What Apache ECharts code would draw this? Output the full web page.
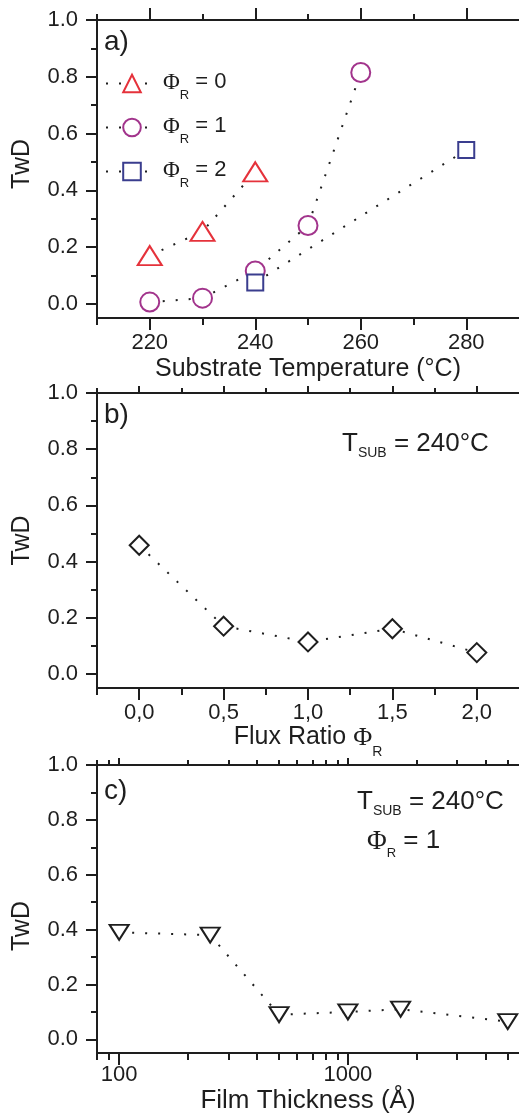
<!DOCTYPE html>
<html>
<head>
<meta charset="utf-8">
<script src="https://cdn.jsdelivr.net/npm/echarts@6/dist/echarts.min.js"></script>
<style>
html,body{margin:0;padding:0;background:#fff;}
#chart{width:519px;height:1116px;}
</style>
</head>
<body>
<div id="chart"></div>
<script>
// ---------- data ----------
const phi0Temp = [220, 230, 240];
const phi0TwD  = [0.17, 0.255, 0.465];
const phi1Temp = [220, 230, 240, 250, 260];
const phi1TwD  = [0.006, 0.02, 0.116, 0.276, 0.815];
const phi2Temp = [240, 280];
const phi2TwD  = [0.075, 0.542];
const seriesNamesA = ['ΦR = 0', 'ΦR = 1', 'ΦR = 2'];

const fluxRatio = [0, 0.5, 1.0, 1.5, 2.0];
const fluxTwD   = [0.458, 0.170, 0.114, 0.161, 0.076];

const thickness    = [100, 250, 500, 1000, 1700, 5000];
const thicknessTwD = [0.39, 0.38, 0.09, 0.10, 0.11, 0.065];

// ---------- tick labels ----------
const yTicks      = [0, 0.2, 0.4, 0.6, 0.8, 1.0];
const yMinorTicks = [0.1, 0.3, 0.5, 0.7, 0.9];
const tempTicks      = [220, 240, 260, 280];
const tempMinorTicks = [210, 230, 250, 270];
const fluxTicks      = [0, 0.5, 1.0, 1.5, 2.0];
const fluxMinorTicks = [-0.25, 0.25, 0.75, 1.25, 1.75];
const thickTicks      = [100, 1000];
const thickMinorTicks = [80, 90, 200, 300, 400, 500, 600, 700, 800, 900, 2000, 3000, 4000, 5000];

// ---------- style ----------
const INK = '#1e1e1e';
const FONT = '"Liberation Sans", Arial, sans-serif';
const SERIF = '"Liberation Serif", "DejaVu Serif", serif';
const RED = '#e5323b', PURPLE = '#a2348c', BLUE = '#3a3d8e';
const TICK_FS = 22, TITLE_FS = 25;

const grids = [
  {left: 97, top: 20,  width: 424, height: 298},
  {left: 97, top: 393, width: 424, height: 295},
  {left: 97, top: 765, width: 424, height: 297}
];

function baseAxis(gi, type, min, max, position, showLine) {
  const ax = {
    gridIndex: gi, type: type, min: min, max: max, position: position,
    axisLine: {show: showLine, onZero: false, lineStyle: {color: INK, width: 2}},
    splitLine: {show: false},
    axisLabel: {show: false},
    axisPointer: {show: false}
  };
  if (type === 'log') ax.logBase = 10;
  return ax;
}
function tickAxis(gi, type, min, max, position, values, len, showLine, label) {
  const ax = baseAxis(gi, type, min, max, position, showLine);
  ax.axisTick = {show: true, customValues: values, length: len, inside: false,
                 lineStyle: {color: INK, width: 2}};
  if (label) {
    ax.axisLabel = Object.assign({show: true, customValues: values, color: INK,
      fontFamily: FONT, fontSize: TICK_FS}, label);
  }
  return ax;
}

const xAxes = [];
const yAxes = [];
function addPanel(gi, xType, xMin, xMax, xMajor, xMinor, xLabel, topMajorLen, topMinorLen, xName, yPad) {
  const main = tickAxis(gi, xType, xMin, xMax, 'bottom', xMajor, 12, true, xLabel);
  Object.assign(main, xName);
  const idx = xAxes.length;
  xAxes.push(main);
  xAxes.push(tickAxis(gi, xType, xMin, xMax, 'bottom', xMinor, 7, false));
  xAxes.push(tickAxis(gi, xType, xMin, xMax, 'top', xMajor, topMajorLen, true));
  xAxes.push(tickAxis(gi, xType, xMin, xMax, 'top', xMinor, topMinorLen, false));
  const yMain = tickAxis(gi, 'value', -0.05, 1.0, 'left', yTicks, 11, true,
    {margin: 19, formatter: v => v.toFixed(1)});
  Object.assign(yMain, {
    name: 'TwD', nameLocation: 'middle', nameGap: 60,
    nameTextStyle: {color: INK, fontFamily: FONT, fontSize: TITLE_FS, lineHeight: 28, padding: yPad || 0}
  });
  const yIdx = yAxes.length;
  yAxes.push(yMain);
  yAxes.push(tickAxis(gi, 'value', -0.05, 1.0, 'left', yMinorTicks, 6, false));
  return {x: idx, y: yIdx};
}

const pa = addPanel(0, 'value', 210, 290, tempTicks, tempMinorTicks,
  {margin: 14}, 12, 6,
  {name: 'Substrate Temperature (°C)', nameLocation: 'middle', nameGap: 34,
   nameTextStyle: {color: INK, fontFamily: FONT, fontSize: TITLE_FS, lineHeight: 28}},
  [0, 0, 0, 10]);
const pb = addPanel(1, 'value', -0.25, 2.25, fluxTicks, fluxMinorTicks,
  {margin: 14, formatter: v => v.toFixed(1).replace('.', ',')}, 7, 5,
  {name: '{m|Flux Ratio }{f|Φ}{s|R}', nameLocation: 'middle', nameGap: 37,
   nameTextStyle: {color: INK, fontFamily: FONT, fontSize: TITLE_FS, lineHeight: 28,
     rich: {
       m: {fontFamily: FONT, fontSize: TITLE_FS, lineHeight: 28, verticalAlign: 'top', color: INK},
       f: {fontFamily: SERIF, fontSize: TITLE_FS + 1, lineHeight: 28, verticalAlign: 'top', color: INK},
       s: {fontFamily: FONT, fontSize: 14, lineHeight: 14, padding: [20, 0, 0, 0], verticalAlign: 'top', color: INK}
     }}});
const pc = addPanel(2, 'log', 80, 5600, thickTicks, thickMinorTicks,
  {margin: 11, formatter: v => String(Math.round(v))}, 7, 5,
  {name: 'Film Thickness (Å)', nameLocation: 'middle', nameGap: 23,
   nameTextStyle: {color: INK, fontFamily: FONT, fontSize: 26, lineHeight: 28}},
  [0, 34, 0, 0]);

function pairs(xs, ys) { return xs.map((x, i) => [x, ys[i]]); }

const dotted = {color: INK, width: 2, type: [2, 11]};
function lineSeries(name, p, xs, ys, symbol, size, color, rotate) {
  return {
    name: name, type: 'line', xAxisIndex: p.x, yAxisIndex: p.y,
    data: pairs(xs, ys), symbol: symbol, symbolSize: size, symbolRotate: rotate || 0,
    showAllSymbol: true,
    lineStyle: dotted,
    itemStyle: {color: '#fff', borderColor: color, borderWidth: 2},
    emphasis: {disabled: true},
    animation: false, z: 3
  };
}

const series = [
  lineSeries(seriesNamesA[0], pa, phi0Temp, phi0TwD, 'triangle', [24, 19], RED),
  lineSeries(seriesNamesA[1], pa, phi1Temp, phi1TwD, 'circle', 19, PURPLE),
  lineSeries(seriesNamesA[2], pa, phi2Temp, phi2TwD, 'rect', 16, BLUE),
  lineSeries('flux', pb, fluxRatio, fluxTwD, 'diamond', 19, INK),
  lineSeries('thickness', pc, thickness, thicknessTwD, 'triangle', [19, 15], INK, 180)
];

const subRich = (mainSize, subSize, subPad) => ({
  t: {fontFamily: FONT, fontSize: mainSize, lineHeight: mainSize + 3, verticalAlign: 'top', fill: INK, color: INK},
  f: {fontFamily: SERIF, fontSize: mainSize + 1, lineHeight: mainSize + 3, verticalAlign: 'top', fill: INK, color: INK},
  s: {fontFamily: FONT, fontSize: subSize, lineHeight: subSize, padding: [subPad, 0, 0, 0], verticalAlign: 'top', fill: INK, color: INK}
});

function txt(x, y, text, size, rich) {
  const style = {x: x, y: y, text: text, fill: INK, fontFamily: FONT, fontSize: size,
                 verticalAlign: 'top', align: 'left'};
  if (rich) style.rich = rich;
  return {type: 'text', style: style, z: 10};
}

const option = {
  backgroundColor: '#fff',
  animation: false,
  grid: grids,
  xAxis: xAxes,
  yAxis: yAxes,
  legend: {
    data: seriesNamesA,
    orient: 'vertical', left: 100, top: 66,
    itemWidth: 52, itemHeight: 22, itemGap: 13, itemGap: 13,
    selectedMode: false,
    formatter: n => '{f|Φ}{s|R}{t| = ' + n.split('= ')[1] + '}',
    textStyle: {color: INK, fontFamily: FONT, fontSize: 22,
      rich: {
        t: {fontFamily: FONT, fontSize: 22, lineHeight: 25, verticalAlign: 'top', color: INK},
        f: {fontFamily: SERIF, fontSize: 23, lineHeight: 25, verticalAlign: 'top', color: INK},
        s: {fontFamily: FONT, fontSize: 13, lineHeight: 13, padding: [18, 0, 0, 0], verticalAlign: 'top', color: INK}
      }}
  },
  graphic: [
    txt(104, 28, 'a)', 28),
    txt(104, 401, 'b)', 28),
    txt(104, 777, 'c)', 28),
    txt(342, 431, '{t|T}{s|SUB}{t| = 240°C}', 26, subRich(26, 14, 15)),
    txt(357, 789, '{t|T}{s|SUB}{t| = 240°C}', 26, subRich(26, 14, 15)),
    txt(367, 828, '{f|Φ}{s|R}{t| = 1}', 26, subRich(26, 13, 19))
  ],
  series: series
};

const chart = echarts.init(document.getElementById('chart'), null, {renderer: 'canvas'});
chart.setOption(option);
</script>
</body>
</html>
